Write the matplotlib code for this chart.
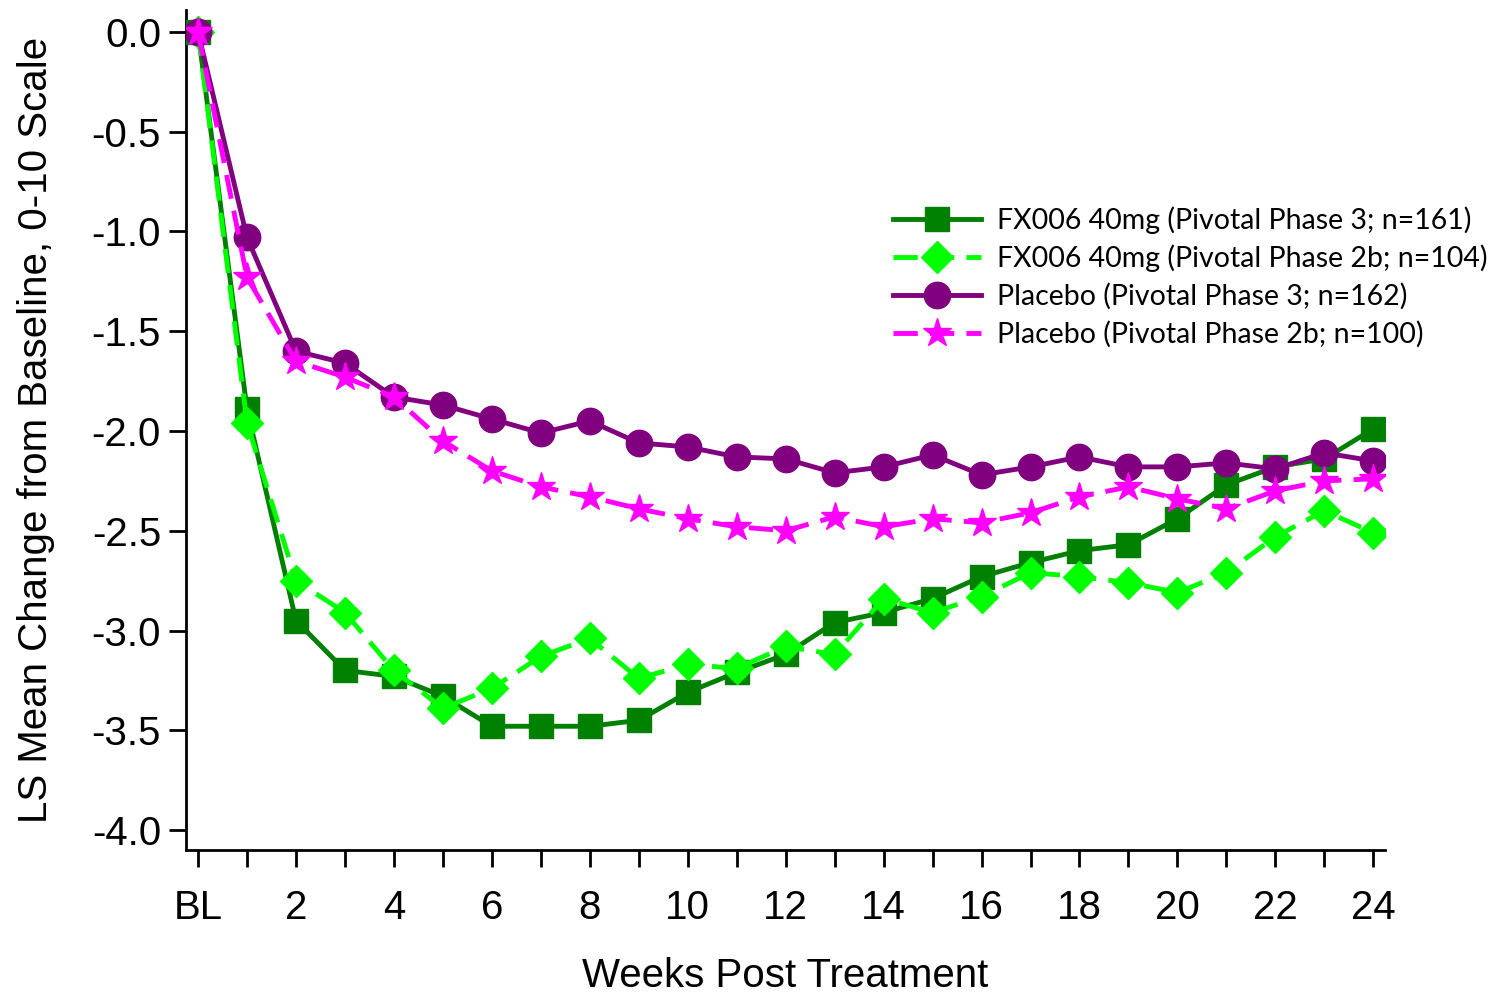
import matplotlib
matplotlib.use("Agg")
import matplotlib.pyplot as plt

weeks = list(range(0, 25))
tick_labels = ["BL", "", "2", "", "4", "", "6", "", "8", "", "10", "", "12", "",
               "14", "", "16", "", "18", "", "20", "", "22", "", "24"]

fx_p3 = [0.00, -1.89, -2.95, -3.20, -3.23, -3.33, -3.48, -3.48, -3.48, -3.45,
         -3.31, -3.21, -3.12, -2.96, -2.91, -2.84, -2.73, -2.66, -2.60, -2.57,
         -2.44, -2.27, -2.18, -2.14, -1.99]
fx_p2b = [0.00, -1.96, -2.75, -2.91, -3.20, -3.39, -3.29, -3.13, -3.04, -3.24,
          -3.17, -3.19, -3.08, -3.12, -2.84, -2.91, -2.83, -2.71, -2.73, -2.76,
          -2.81, -2.71, -2.53, -2.40, -2.51]
pl_p3 = [0.00, -1.03, -1.60, -1.66, -1.83, -1.87, -1.94, -2.01, -1.95, -2.06,
         -2.08, -2.13, -2.14, -2.21, -2.18, -2.12, -2.22, -2.18, -2.13, -2.18,
         -2.18, -2.16, -2.19, -2.11, -2.15]
pl_p2b = [0.00, -1.23, -1.65, -1.73, -1.83, -2.05, -2.20, -2.28, -2.33, -2.39,
          -2.44, -2.48, -2.50, -2.43, -2.48, -2.44, -2.46, -2.41, -2.33, -2.28,
          -2.34, -2.39, -2.30, -2.25, -2.24]

labels = ["FX006 40mg (Pivotal Phase 3; n=161)",
          "FX006 40mg (Pivotal Phase 2b; n=104)",
          "Placebo (Pivotal Phase 3; n=162)",
          "Placebo (Pivotal Phase 2b; n=100)"]

plt.rcParams['font.family'] = ['Liberation Sans', 'DejaVu Sans']

fig = plt.figure(figsize=(14.93, 9.96), dpi=100)
ax = fig.add_axes([0.1246, 0.1466, 0.8031, 0.8434])

dash = (5, 2.5)
ax.plot(weeks, fx_p3, color="#008000", lw=3.5, marker="s", ms=17, label=labels[0], zorder=3)
ax.plot(weeks, fx_p2b, color="#00FF00", lw=3.5, marker="D", ms=16, dashes=dash,
        label=labels[1], zorder=4)
ax.plot(weeks, pl_p3, color="#800080", lw=3.5, marker="o", ms=19, label=labels[2], zorder=5)
ax.plot(weeks, pl_p2b, color="#FF00FF", lw=3.5, marker="*", ms=21, dashes=dash,
        label=labels[3], zorder=6)

ax.set_xlim(-0.245, 24.24)
ax.set_ylim(-4.1, 0.11)
ax.set_xticks(weeks)
ax.set_xticklabels(tick_labels)
yticks = [0, -0.5, -1, -1.5, -2, -2.5, -3, -3.5, -4]
ax.set_yticks(yticks)
ax.set_yticklabels(["%.1f" % v for v in yticks])
ax.tick_params(axis="both", labelsize=29, width=2, length=12, direction="out")
ax.tick_params(axis="x", pad=16)
ax.tick_params(axis="y", pad=6)

for s in ["top", "right"]:
    ax.spines[s].set_visible(False)
for s in ["left", "bottom"]:
    ax.spines[s].set_linewidth(2)

ax.set_xlabel("Weeks Post Treatment", fontsize=29, labelpad=22)
ax.set_ylabel("LS Mean Change from Baseline, 0-10 Scale", fontsize=29, labelpad=26)

leg = ax.legend(loc="upper left", bbox_to_anchor=(0.58, 0.78), frameon=False,
                prop={"family": "Lato", "size": 20.5}, handlelength=3.1,
                handletextpad=0.55, labelspacing=0.38, borderaxespad=0)

fig.savefig("out.png", dpi=100)
